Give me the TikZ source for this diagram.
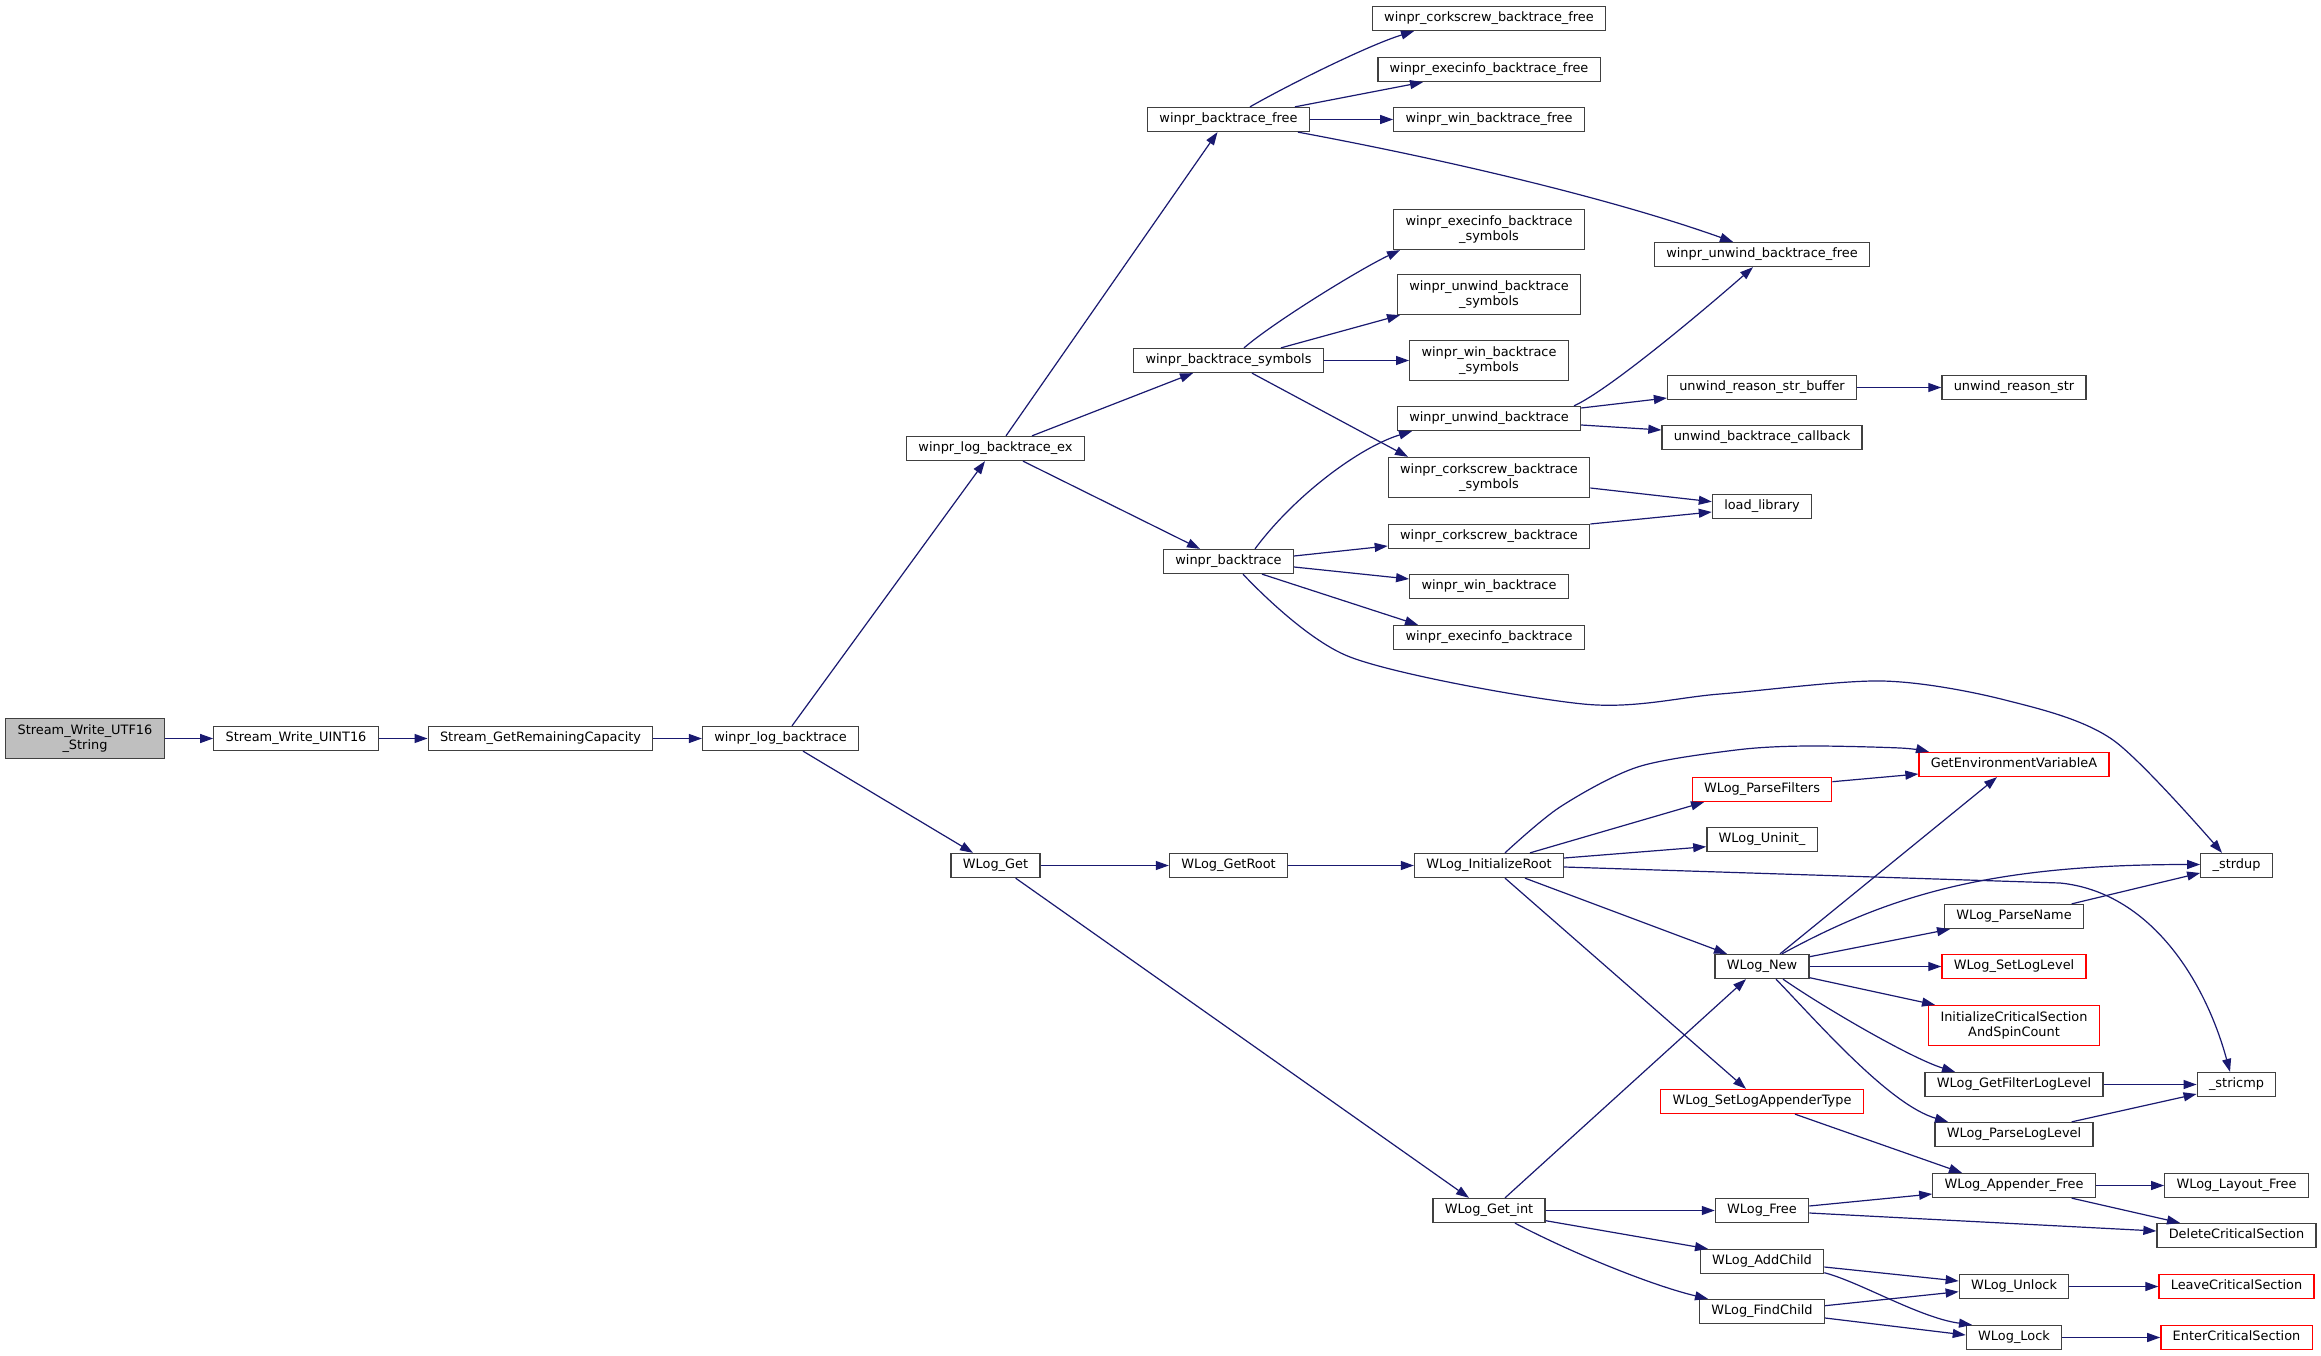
\documentclass[tikz,border=0pt]{standalone}
\usepackage{fontspec}
\setmainfont{DejaVu Sans}
\usetikzlibrary{arrows.meta}
\definecolor{edgeblue}{HTML}{191970}
\definecolor{boxgrey}{HTML}{404040}
\definecolor{rootfill}{HTML}{BFBFBF}
\newcommand\fnfont{\fontsize{12.9}{15}\selectfont}
\tikzset{
  fn/.style={draw=boxgrey, fill=white, line width=1.3pt, rectangle, inner xsep=11.8pt, inner ysep=0pt,
             minimum height=24pt, text height=9.6pt, text depth=3.2pt, font=\fnfont},
  fntwo/.style={draw=boxgrey, fill=white, line width=1.3pt, rectangle, inner xsep=11.8pt, inner ysep=0pt,
             minimum height=40pt, align=center, font=\fnfont},
  trunc/.style={draw=red},
  rootnode/.style={fill=rootfill},
  edgecall/.style={draw=edgeblue, line width=1.2pt, -{Triangle[length=13pt,width=9pt]}},
}
\begin{document}
\begin{tikzpicture}[x=1pt,y=-1pt]
\useasboundingbox (0,0) rectangle (2321,1356);
\fill[white] (0,0) rectangle (2321,1356);

% rank 0-4
\node[fntwo,rootnode] (utf16) at (85,738.5) {Stream\_Write\_UTF16\\\_String};
\node[fn] (uint16) at (296,738.5) {Stream\_Write\_UINT16};
\node[fn] (cap) at (540.5,738.5) {Stream\_GetRemainingCapacity};
\node[fn] (lbt) at (780.5,738.5) {winpr\_log\_backtrace};
\node[fn] (lbtex) at (995.5,448.5) {winpr\_log\_backtrace\_ex};
\node[fn] (wget) at (995.5,865.5) {WLog\_Get};
% rank 5
\node[fn] (btfree) at (1228.5,119.5) {winpr\_backtrace\_free};
\node[fn] (btsym) at (1228.5,360.5) {winpr\_backtrace\_symbols};
\node[fn] (bt) at (1228.5,561.5) {winpr\_backtrace};
\node[fn] (getroot) at (1228.5,865.5) {WLog\_GetRoot};
% rank 6
\node[fn] (cbfree) at (1489,18.5) {winpr\_corkscrew\_backtrace\_free};
\node[fn] (ebfree) at (1489,69.5) {winpr\_execinfo\_backtrace\_free};
\node[fn] (wbfree) at (1489,119.5) {winpr\_win\_backtrace\_free};
\node[fntwo] (esym) at (1489,229.5) {winpr\_execinfo\_backtrace\\\_symbols};
\node[fntwo] (usym) at (1489,294.5) {winpr\_unwind\_backtrace\\\_symbols};
\node[fntwo] (wsym) at (1489,360.5) {winpr\_win\_backtrace\\\_symbols};
\node[fn] (ubt) at (1489,418.5) {winpr\_unwind\_backtrace};
\node[fntwo] (csym) at (1489,477.5) {winpr\_corkscrew\_backtrace\\\_symbols};
\node[fn] (cbt) at (1489,536.5) {winpr\_corkscrew\_backtrace};
\node[fn] (wbt) at (1489,586.5) {winpr\_win\_backtrace};
\node[fn] (ebt) at (1489,637.5) {winpr\_execinfo\_backtrace};
\node[fn] (initroot) at (1489,865.5) {WLog\_InitializeRoot};
\node[fn] (getint) at (1489,1210.5) {WLog\_Get\_int};
% rank 7
\node[fn] (ubfree) at (1762,254.5) {winpr\_unwind\_backtrace\_free};
\node[fn] (ursb) at (1762,387.5) {unwind\_reason\_str\_buffer};
\node[fn] (ubcb) at (1762,437.5) {unwind\_backtrace\_callback};
\node[fn] (loadlib) at (1762,506.5) {load\_library};
\node[fn,trunc] (pfilt) at (1762,789.5) {WLog\_ParseFilters};
\node[fn] (uninit) at (1762,839.5) {WLog\_Uninit\_};
\node[fn] (wnew) at (1762,966.5) {WLog\_New};
\node[fn,trunc] (slat) at (1762,1101.5) {WLog\_SetLogAppenderType};
\node[fn] (wfree) at (1762,1210.5) {WLog\_Free};
\node[fn] (addch) at (1762,1261.5) {WLog\_AddChild};
\node[fn] (findch) at (1762,1311.5) {WLog\_FindChild};
% rank 8
\node[fn] (urs) at (2014,387.5) {unwind\_reason\_str};
\node[fn,trunc] (geva) at (2014,764.5) {GetEnvironmentVariableA};
\node[fn] (pname) at (2014,916.5) {WLog\_ParseName};
\node[fn,trunc] (sll) at (2014,966.5) {WLog\_SetLogLevel};
\node[fntwo,trunc] (icsa) at (2014,1025.5) {InitializeCriticalSection\\AndSpinCount};
\node[fn] (gfll) at (2014,1084.5) {WLog\_GetFilterLogLevel};
\node[fn] (pll) at (2014,1134.5) {WLog\_ParseLogLevel};
\node[fn] (afree) at (2014,1185.5) {WLog\_Appender\_Free};
\node[fn] (unlock) at (2014,1286.5) {WLog\_Unlock};
\node[fn] (lock) at (2014,1337.5) {WLog\_Lock};
% rank 9
\node[fn] (strdup) at (2236.5,865.5) {\_strdup};
\node[fn] (stricmp) at (2236.5,1084.5) {\_stricmp};
\node[fn] (lfree) at (2236.5,1185.5) {WLog\_Layout\_Free};
\node[fn] (dcs) at (2236.5,1235.5) {DeleteCriticalSection};
\node[fn,trunc] (lcs) at (2236.5,1286.5) {LeaveCriticalSection};
\node[fn,trunc] (ecs) at (2236.5,1337.5) {EnterCriticalSection};

% edges
\draw[edgecall] (utf16) -- (uint16);
\draw[edgecall] (uint16) -- (cap);
\draw[edgecall] (cap) -- (lbt);
\draw[edgecall] (792,0 |- lbt.north) -- (985,0 |- lbtex.south);
\draw[edgecall] (803,0 |- lbt.south) -- (973,0 |- wget.north);
\draw[edgecall] (1006,0 |- lbtex.north) -- (1217.5,0 |- btfree.south);
\draw[edgecall] (1032,0 |- lbtex.north) -- (1193,0 |- btsym.south);
\draw[edgecall] (1023,0 |- lbtex.south) -- (1200,0 |- bt.north);

\draw[edgecall] (1250,0 |- btfree.north) .. controls (1290,84) and (1369,45) .. (1414,0 |- cbfree.south);
\draw[edgecall] (1295,0 |- btfree.north) -- (1423,0 |- ebfree.south);
\draw[edgecall] (btfree) -- (wbfree);
\draw[edgecall] (1298,0 |- btfree.south) .. controls (1448,160) and (1613,199) .. (1733,0 |- ubfree.north);

\draw[edgecall] (1244,0 |- btsym.north) .. controls (1274,322) and (1360,269) .. (1400,0 |- esym.south);
\draw[edgecall] (1281,0 |- btsym.north) -- (1400,0 |- usym.south);
\draw[edgecall] (btsym) -- (wsym);
\draw[edgecall] (1252,0 |- btsym.south) -- (1408,0 |- csym.north);

\draw[edgecall] (1255,0 |- bt.north) .. controls (1295,495) and (1360,447) .. (1412,0 |- ubt.south);
\draw[edgecall] (bt.east |- 0,556) -- (cbt.west |- 0,546);
\draw[edgecall] (bt.east |- 0,567) -- (wbt.west |- 0,579);
\draw[edgecall] (1262,0 |- bt.south) -- (1418,0 |- ebt.north);
\draw[edgecall] plot[smooth] coordinates {(1243,0 |- bt.south) (1350,657) (1583,704) (1720,694) (1882,681) (2005,700) (2113,740) (2222,0 |- strdup.north)};

\draw[edgecall] (1574,0 |- ubt.north) .. controls (1609,390) and (1703,311) .. (1753,0 |- ubfree.south);
\draw[edgecall] (ubt.east |- 0,408) -- (ursb.west |- 0,398);
\draw[edgecall] (ubt.east |- 0,425) -- (ubcb.west |- 0,430);
\draw[edgecall] (ursb) -- (urs);
\draw[edgecall] (csym.east |- 0,488) -- (loadlib.west |- 0,501.7);
\draw[edgecall] (cbt.east |- 0,524) -- (loadlib.west |- 0,512);

\draw[edgecall] (wget) -- (getroot);
\draw[edgecall] (1015.6,0 |- wget.south) -- (1469,0 |- getint.north);
\draw[edgecall] (getroot) -- (initroot);

\draw[edgecall] plot[smooth] coordinates {(1505,0 |- initroot.north) (1560,807) (1637.6,767) (1736,750) (1806,746) (1900,748) (1929,0 |- geva.north)};
\draw[edgecall] (1530,0 |- initroot.north) -- (1704,0 |- pfilt.south);
\draw[edgecall] (initroot.east |- 0,858) -- (uninit.west |- 0,846.7);
\draw[edgecall] (initroot.east |- 0,867) -- (2060,883) .. controls (2150,892) and (2205,980) .. (2230,0 |- stricmp.north);
\draw[edgecall] (1525,0 |- initroot.south) -- (1727,0 |- wnew.north);
\draw[edgecall] (1505,0 |- initroot.south) -- (1746,0 |- slat.north);

\draw[edgecall] (pfilt.east |- 0,781.7) -- (geva.west |- 0,774);
\draw[edgecall] (1780,0 |- wnew.north) -- (1997,0 |- geva.south);
\draw[edgecall] (1782,0 |- wnew.north) .. controls (1890,895) and (1990,864.5) .. (strdup.west |- 0,864.5);
\draw[edgecall] (wnew.east |- 0,956.7) -- (1950,0 |- pname.south);
\draw[edgecall] (wnew) -- (sll);
\draw[edgecall] (wnew.east |- 0,977.7) -- (1935,0 |- icsa.north);
\draw[edgecall] (1783,0 |- wnew.south) .. controls (1820,1005) and (1910,1058) .. (1955,0 |- gfll.north);
\draw[edgecall] (1776,0 |- wnew.south) .. controls (1820,1025) and (1890,1105) .. (1948,0 |- pll.north);
\draw[edgecall] (2071.7,0 |- pname.north) -- (strdup.west |- 0,873);
\draw[edgecall] (gfll) -- (stricmp);
\draw[edgecall] (2071.7,0 |- pll.north) -- (stricmp.west |- 0,1094);
\draw[edgecall] (1795,0 |- slat.south) -- (1962,0 |- afree.north);

\draw[edgecall] (1505,0 |- getint.north) -- (1746,0 |- wnew.south);
\draw[edgecall] (getint) -- (wfree);
\draw[edgecall] (getint.east |- 0,1220.7) -- (1708,0 |- addch.north);
\draw[edgecall] (1515,0 |- getint.south) .. controls (1570,1252) and (1650,1285) .. (1708,0 |- findch.north);
\draw[edgecall] (wfree.east |- 0,1206) -- (afree.west |- 0,1194);
\draw[edgecall] (wfree.east |- 0,1213) -- (dcs.west |- 0,1231);
\draw[edgecall] (afree) -- (lfree);
\draw[edgecall] (2071.7,0 |- afree.south) -- (2180,0 |- dcs.north);
\draw[edgecall] (addch.east |- 0,1267) -- (unlock.west |- 0,1281);
\draw[edgecall] (addch.east |- 0,1272.7) .. controls (1860,1282) and (1920,1318) .. (1972,0 |- lock.north);
\draw[edgecall] (findch.east |- 0,1305.7) -- (unlock.west |- 0,1291.7);
\draw[edgecall] (findch.east |- 0,1318) -- (lock.west |- 0,1335);
\draw[edgecall] (unlock) -- (lcs);
\draw[edgecall] (lock) -- (ecs);
\end{tikzpicture}
\end{document}
